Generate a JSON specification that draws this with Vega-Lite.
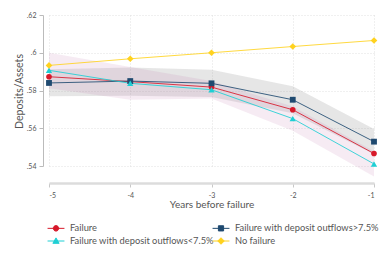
{
  "$schema": "https://vega.github.io/schema/vega-lite/v6.json",
  "width": 325,
  "height": 151,
  "autosize": {"type": "none"},
  "padding": {"left": 49, "top": 15, "right": 15, "bottom": 93},
  "background": "white",
  "config": {
    "font": "Lato",
    "view": {"stroke": null},
    "axis": {"labelFont": "Lato", "titleFont": "Lato", "labelColor": "#555", "titleColor": "#555", "titleFontWeight": "normal"},
    "legend": {"labelFont": "Lato", "labelColor": "#555"}
  },
  "data": {
    "values": [
      {"series": "Failure", "year": -5, "value": 0.5873},
      {"series": "Failure", "year": -4, "value": 0.5847},
      {"series": "Failure", "year": -3, "value": 0.5818},
      {"series": "Failure", "year": -2, "value": 0.5698},
      {"series": "Failure", "year": -1, "value": 0.5466},
      {"series": "Failure with deposit outflows>7.5%", "year": -5, "value": 0.5840, "lo": 0.5769, "hi": 0.5912},
      {"series": "Failure with deposit outflows>7.5%", "year": -4, "value": 0.5850, "lo": 0.5772, "hi": 0.5922},
      {"series": "Failure with deposit outflows>7.5%", "year": -3, "value": 0.5838, "lo": 0.5766, "hi": 0.5910},
      {"series": "Failure with deposit outflows>7.5%", "year": -2, "value": 0.5751, "lo": 0.5680, "hi": 0.5822},
      {"series": "Failure with deposit outflows>7.5%", "year": -1, "value": 0.5529, "lo": 0.5462, "hi": 0.5596},
      {"series": "Failure with deposit outflows<7.5%", "year": -5, "value": 0.5907, "lo": 0.5812, "hi": 0.6000},
      {"series": "Failure with deposit outflows<7.5%", "year": -4, "value": 0.5838, "lo": 0.5751, "hi": 0.5925},
      {"series": "Failure with deposit outflows<7.5%", "year": -3, "value": 0.5804, "lo": 0.5758, "hi": 0.5850},
      {"series": "Failure with deposit outflows<7.5%", "year": -2, "value": 0.5651, "lo": 0.5587, "hi": 0.5715},
      {"series": "Failure with deposit outflows<7.5%", "year": -1, "value": 0.5411, "lo": 0.5344, "hi": 0.5478},
      {"series": "No failure", "year": -5, "value": 0.5933},
      {"series": "No failure", "year": -4, "value": 0.5968},
      {"series": "No failure", "year": -3, "value": 0.6000},
      {"series": "No failure", "year": -2, "value": 0.6033},
      {"series": "No failure", "year": -1, "value": 0.6065}
    ]
  },
  "encoding": {
    "x": {
      "field": "year", "type": "quantitative",
      "scale": {"domain": [-5, -1], "nice": false, "zero": false},
      "axis": {
        "title": "Years before failure", "titleFontSize": 10, "titlePadding": 1,
        "values": [-5, -4, -3, -2, -1],
        "labelExpr": "datum.value + ''", "labelFontSize": 7, "labelPadding": 4,
        "offset": 17, "domainColor": "#dcdcdc", "domainWidth": 2.5,
        "tickColor": "#c8c8c8", "tickSize": 4,
        "grid": true, "gridColor": "#d8d8d8", "gridDash": [1, 2], "gridWidth": 0.8
      }
    },
    "y": {
      "field": "value", "type": "quantitative",
      "scale": {"domain": [0.54, 0.62], "nice": false, "zero": false},
      "axis": {
        "title": "Deposits/Assets", "titleFontSize": 10.5, "titleX": -19, "titleY": 76,
        "values": [0.54, 0.56, 0.58, 0.6, 0.62],
        "labelExpr": "substring(format(datum.value, '.2~f'), 1)", "labelFontSize": 7, "labelPadding": 3,
        "offset": 6, "domainColor": "#bbbbbb", "domainWidth": 1,
        "tickColor": "#bbbbbb", "tickSize": 4,
        "grid": true, "gridColor": "#d8d8d8", "gridDash": [1, 2], "gridWidth": 0.8
      }
    }
  },
  "layer": [
    {
      "transform": [{"filter": "datum.series == 'Failure with deposit outflows>7.5%'"}],
      "mark": {"type": "area", "color": "#808080", "opacity": 0.2},
      "encoding": {"y": {"field": "lo", "type": "quantitative"}, "y2": {"field": "hi"}}
    },
    {
      "transform": [{"filter": "datum.series == 'Failure with deposit outflows<7.5%'"}],
      "mark": {"type": "area", "color": "#c07ab0", "opacity": 0.15},
      "encoding": {"y": {"field": "lo", "type": "quantitative"}, "y2": {"field": "hi"}}
    },
    {
      "mark": {"type": "line", "strokeWidth": 1, "opacity": 0.85},
      "encoding": {
        "color": {"field": "series", "type": "nominal",
          "scale": {"domain": ["Failure", "Failure with deposit outflows>7.5%", "Failure with deposit outflows<7.5%", "No failure"],
                    "range": ["#d7192a", "#1f4a70", "#1fcfd4", "#ffd21f"]},
          "legend": {
            "title": null, "orient": "none", "legendX": 0, "legendY": 206, "direction": "horizontal",
            "columns": 2, "columnPadding": -5, "rowPadding": 0, "labelFontSize": 9.3, "labelOffset": 7,
            "symbolSize": 169, "symbolStrokeWidth": 1, "symbolOpacity": 1,
            "symbolType": {"expr": "datum.value == 'Failure' ? 'M-1.3,0H1.3M0.42,0A0.42,0.42 0 1,1 -0.42,0A0.42,0.42 0 1,1 0.42,0Z' : datum.value == 'No failure' ? 'M-1.3,0H1.3M0,-0.5L0.5,0L0,0.5L-0.5,0Z' : datum.value == 'Failure with deposit outflows>7.5%' ? 'M-1.3,0H1.3M-0.4,-0.4H0.4V0.4H-0.4Z' : 'M-1.3,0H1.3M0,-0.48L0.48,0.36H-0.48Z'"},
            "symbolFillColor": {"expr": "scale('color', datum.value)"}
          }
        }
      }
    },
    {
      "transform": [{"filter": "datum.series == 'Failure'"}],
      "mark": {"type": "point", "filled": true, "opacity": 1, "shape": "circle", "color": "#d7192a", "size": 32}
    },
    {
      "transform": [{"filter": "datum.series == 'Failure with deposit outflows>7.5%'"}],
      "mark": {"type": "point", "filled": true, "opacity": 1, "shape": "square", "color": "#1f4a70", "size": 34}
    },
    {
      "transform": [{"filter": "datum.series == 'Failure with deposit outflows<7.5%'"}],
      "mark": {"type": "point", "filled": true, "opacity": 1, "shape": "triangle-up", "color": "#1fcfd4", "size": 40}
    },
    {
      "transform": [{"filter": "datum.series == 'No failure'"}],
      "mark": {"type": "point", "filled": true, "opacity": 1, "shape": "diamond", "color": "#ffd21f", "size": 44}
    }
  ]
}
